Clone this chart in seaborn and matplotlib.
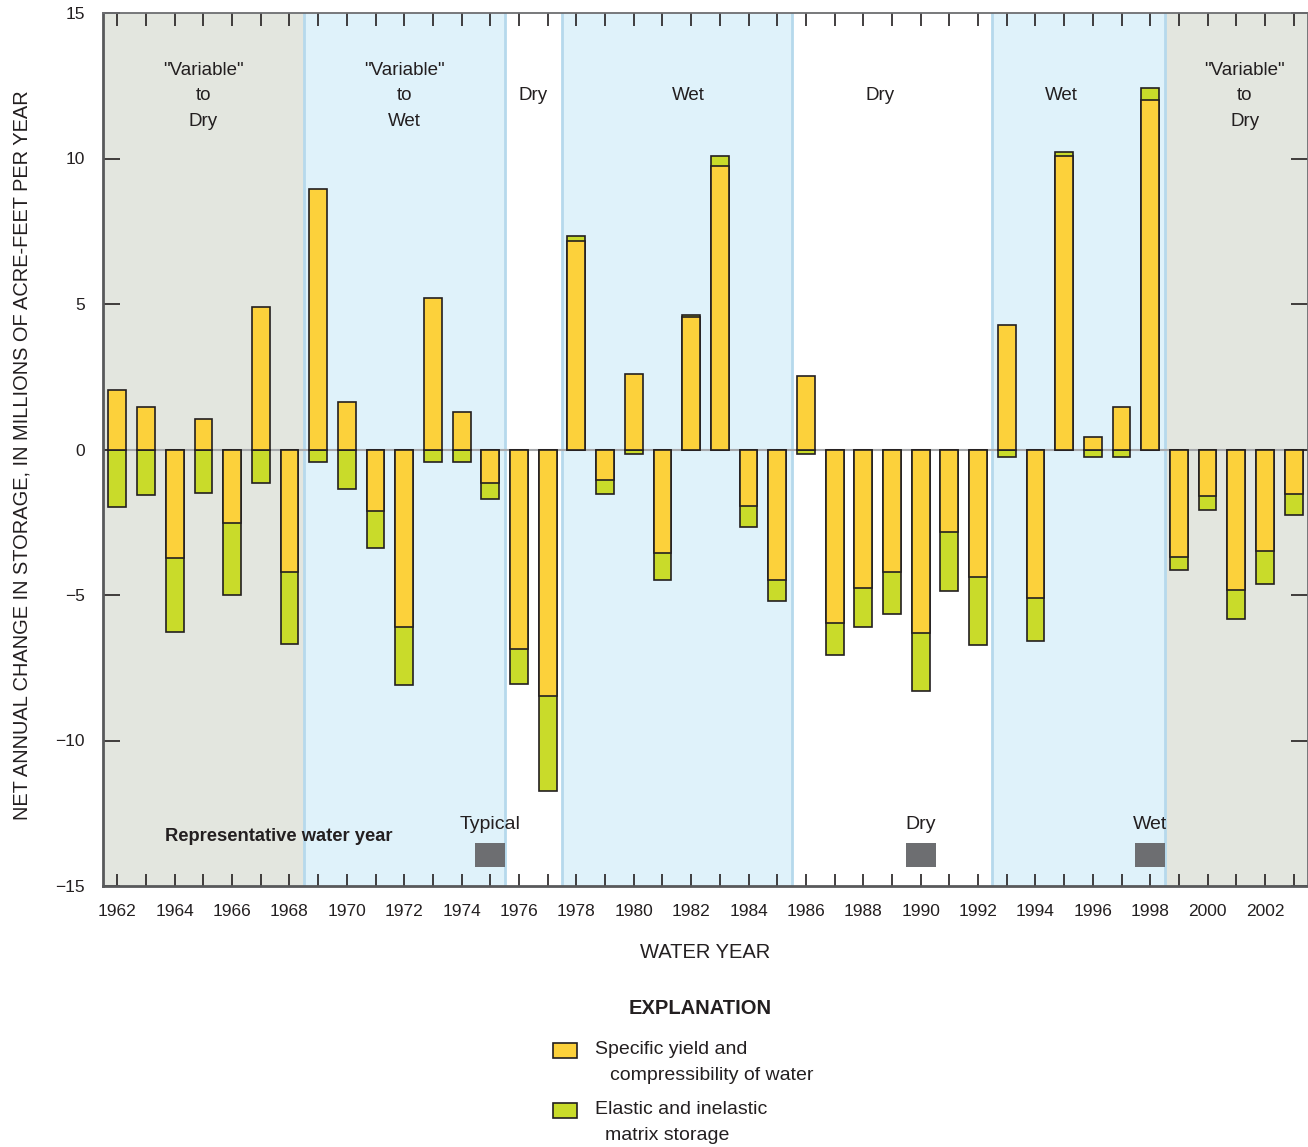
import pandas as pd
import matplotlib.pyplot as plt
import seaborn as sns
from matplotlib.patches import Rectangle

# --- データ ---
years = list(range(1962, 2004))
# specific yield and compressibility of water (millions of acre-ft)
specific_yield = [2.03, 1.46, -3.73, 1.05, -2.52, 4.89, -4.21,
                  8.96, 1.62, -2.10, -6.10, 5.21, 1.28, -1.16, -6.85, -8.48,
                  7.15, -1.05, 2.60, -3.55, 4.55, 9.74, -1.95, -4.47,
                  2.52, -5.95, -4.75, -4.20, -6.32, -2.83, -4.39,
                  4.29, -5.10, 10.09, 0.43, 1.47, 12.00,
                  -3.71, -1.59, -4.82, -3.48, -1.52]
# elastic and inelastic matrix storage
elastic_matrix = [-1.97, -1.55, -2.53, -1.49, -2.47, -1.16, -2.46,
                  -0.43, -1.35, -1.28, -2.00, -0.44, -0.44, -0.53, -1.21, -3.26,
                  0.20, -0.48, -0.14, -0.94, 0.08, 0.36, -0.72, -0.72,
                  -0.14, -1.11, -1.34, -1.47, -1.97, -2.02, -2.34,
                  -0.27, -1.48, 0.15, -0.27, -0.27, 0.41,
                  -0.43, -0.50, -1.00, -1.14, -0.72]

period_start = [1961.5, 1968.5, 1975.5, 1977.5, 1985.5, 1992.5, 1998.5]
period_end = [1968.5, 1975.5, 1977.5, 1985.5, 1992.5, 1998.5, 2003.5]
period_kind = ['variable', 'wet', 'dry', 'wet', 'dry', 'wet', 'variable']
period_labels = ['"Variable"\nto\nDry', '"Variable"\nto\nWet', 'Dry', 'Wet',
                 'Dry', 'Wet', '"Variable"\nto\nDry']
period_label_x = [1965.0, 1972.0, 1976.5, 1981.9, 1988.6, 1994.9, 2001.3]

rep_years = [1975, 1990, 1998]
rep_labels = ['Typical', 'Dry', 'Wet']

YELLOW = '#fcd13b'
GREEN = '#c9db2a'
EDGE = '#231f20'
TEXT = '#231f20'
BG = {'variable': '#e3e6df', 'wet': '#dff2fa', 'dry': 'white'}
FONT = ['Liberation Sans', 'DejaVu Sans']

plt.rcParams['font.family'] = FONT

df = pd.DataFrame({'year': years, 'sy': specific_yield, 'em': elastic_matrix})
# green segment: stacked beyond yellow when same sign, else from zero
same = (df['sy'] * df['em']) > 0
df['green_top'] = df['em'].where(~same, df['sy'] + df['em'])

fig = plt.figure(figsize=(13.08, 11.47), dpi=100)
ax = fig.add_axes([103 / 1308, 1 - 886 / 1147, 1205 / 1308, 873 / 1147])

# --- 背景の期間 ---
for s, e, k in zip(period_start, period_end, period_kind):
    ax.axvspan(s, e, color=BG[k], zorder=0, lw=0)
    if k == 'wet':
        for xb in (s, e):
            ax.axvline(xb, color='#b6d9ec', lw=2, zorder=0.2)

ax.axhline(0, color='#a7a9ac', lw=1.5, zorder=0.5)

bar_kw = dict(native_scale=True, width=0.62, saturation=1, errorbar=None,
              edgecolor=EDGE, linewidth=1.2, ax=ax, zorder=2)
sns.barplot(data=df, x='year', y='green_top', color=GREEN, **bar_kw)
sns.barplot(data=df, x='year', y='sy', color=YELLOW, **bar_kw)

# --- 代表年 ---
ax.bar(rep_years, [-0.82] * len(rep_years), bottom=-13.52, width=1.04,
       color='#6d6e71', zorder=2)
for yr, lab in zip(rep_years, rep_labels):
    ax.text(yr, -12.9, lab, ha='center', va='center', fontsize=14, color=TEXT)
ax.text(1963.67, -13.3, 'Representative water year', ha='left', va='center',
        fontsize=13.2, fontweight='bold', color=TEXT)

for xl, lab in zip(period_label_x, period_labels):
    ax.text(xl, 12.16, lab, ha='center', va='center', fontsize=13.5,
            color=TEXT, linespacing=1.65, multialignment='center')

# --- 軸 ---
ax.set_xlim(1961.5, 2003.5)
ax.set_ylim(-15, 15)
ax.set_xticks(range(1962, 2004, 2))
ax.set_xticklabels([str(y) for y in range(1962, 2004, 2)])
ax.set_xticks(years, minor=True)
ax.set_yticks(range(-15, 16, 5))
ax.set_yticklabels([str(v).replace('-', '\u2212') for v in range(-15, 16, 5)])

ax.tick_params(axis='x', which='both', direction='in', top=True, bottom=True,
               length=9, width=1.2, color='#231f20', labelsize=12.5,
               labelcolor=TEXT, pad=13)
ax.tick_params(axis='y', which='major', direction='in', left=True, right=True,
               length=12, width=1.2, color='#231f20', labelsize=12.5,
               labelcolor=TEXT, pad=13)

for side in ['left', 'bottom']:
    ax.spines[side].set_color('#58595b')
    ax.spines[side].set_linewidth(2)
for side in ['top', 'right']:
    ax.spines[side].set_color('#6d6e71')
    ax.spines[side].set_linewidth(1.3)

ax.set_xlabel('WATER YEAR', fontsize=14.5, color=TEXT, va='center')
ax.xaxis.set_label_coords(0.5, (886 - 952) / 873)
ax.set_ylabel('NET ANNUAL CHANGE IN STORAGE, IN MILLIONS OF ACRE-FEET PER YEAR',
              fontsize=14.4, color=TEXT, va='center')
ax.yaxis.set_label_coords((22 - 103) / 1205, (886 - 455) / 873)

# --- 凡例 (EXPLANATION) ---
fig.text(700 / 1308, 1 - 1008 / 1147, 'EXPLANATION', ha='center', va='center',
         fontsize=14.5, fontweight='bold', color=TEXT)
for ytop, col in [(1043, YELLOW), (1103, GREEN)]:
    fig.patches.append(Rectangle((553 / 1308, 1 - (ytop + 15) / 1147),
                                 24 / 1308, 15 / 1147, transform=fig.transFigure,
                                 facecolor=col, edgecolor=EDGE, lw=1.2))
legend_lines = [(595, 1050, 'Specific yield and'),
                (610, 1076, 'compressibility of water'),
                (595, 1109, 'Elastic and inelastic'),
                (605, 1135, 'matrix storage')]
for lx, ly, s in legend_lines:
    fig.text(lx / 1308, 1 - ly / 1147, s, ha='left', va='center',
             fontsize=14, color=TEXT)

fig.savefig('out.png', dpi=100, facecolor='white')
plt.close(fig)
